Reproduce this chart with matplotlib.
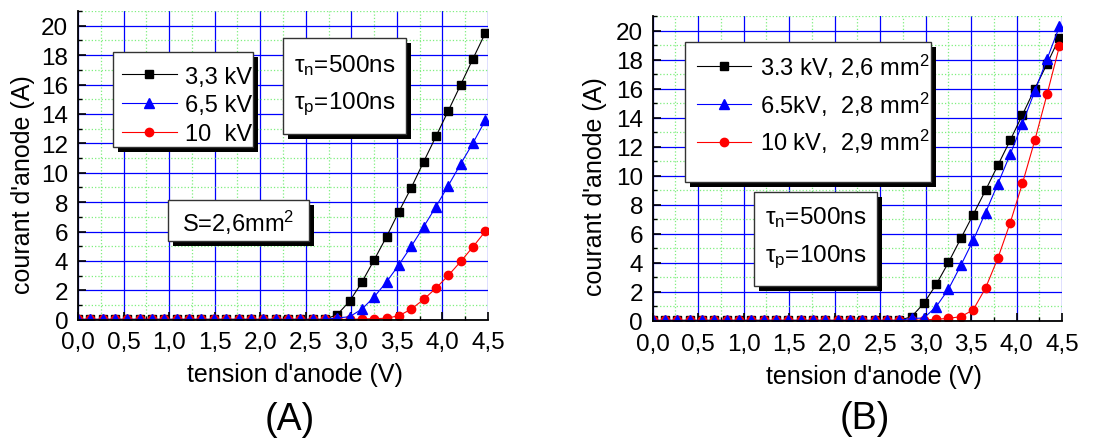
import numpy as np
import matplotlib
matplotlib.use('Agg')
import matplotlib.pyplot as plt
from matplotlib.patches import Rectangle
from matplotlib.ticker import MultipleLocator, FuncFormatter

plt.rcParams['font.family'] = ['Liberation Sans', 'DejaVu Sans']
plt.rcParams['mathtext.fontset'] = 'custom'
plt.rcParams['mathtext.rm'] = 'Liberation Sans'
plt.rcParams['mathtext.it'] = 'Liberation Sans:italic'

# tension d'anode (V), same sampling in both panels
x = [0.000, 0.136, 0.271, 0.407, 0.542, 0.678, 0.813, 0.949, 1.084, 1.220,
     1.355, 1.491, 1.626, 1.762, 1.897, 2.033, 2.168, 2.304, 2.439, 2.575,
     2.710, 2.846, 2.981, 3.117, 3.252, 3.388, 3.523, 3.659, 3.794, 3.930,
     4.065, 4.201, 4.336, 4.472]

z = [0.02] * 21  # flat part before turn-on

# panel (A): S = 2,6 mm2
a_33 = z + [0.35, 1.25, 2.56, 4.08, 5.66, 7.36, 8.99, 10.74, 12.48, 14.22, 15.99, 17.76, 19.52]
a_65 = z + [0.12, 0.20, 0.72, 1.56, 2.58, 3.74, 5.00, 6.32, 7.70, 9.13, 10.60, 12.03, 13.57]
a_10 = z + [0.02, 0.02, 0.05, 0.07, 0.10, 0.27, 0.72, 1.38, 2.15, 3.01, 3.96, 4.96, 6.02]
a_labels = ['3,3 kV', '6,5 kV', '10  kV']

# panel (B): different surfaces
b_33 = z + [0.28, 1.20, 2.50, 4.02, 5.68, 7.31, 8.99, 10.71, 12.44, 14.20, 16.00, 17.72, 19.52]
b_65 = z + [0.16, 0.18, 0.97, 2.18, 3.82, 5.54, 7.45, 9.43, 11.47, 13.60, 15.83, 18.05, 20.30]
b_10 = z + [0.02, 0.05, 0.10, 0.16, 0.28, 0.74, 2.25, 4.30, 6.74, 9.47, 12.44, 15.63, 18.94]
b_labels = ['3.3 kV, 2,6 mm$^2$', '6.5kV,  2,8 mm$^2$', '10 kV,  2,9 mm$^2$']

tau_text = ['τ$_\\mathrm{n}$=500ns', 'τ$_\\mathrm{p}$=100ns']


def shadow_box(ax, x0, y0, x1, y1):
    # white box with a black drop shadow, Origin style (axes coords)
    tr = ax.transAxes
    dx, dy = 5 / (ax.bbox.width), 5 / (ax.bbox.height)
    ax.add_patch(Rectangle((x0 + dx, y0 - dy), x1 - x0, y1 - y0, transform=tr,
                           fc='k', ec='k', lw=0, zorder=6, clip_on=False))
    ax.add_patch(Rectangle((x0, y0), x1 - x0, y1 - y0, transform=tr,
                           fc='white', ec='#333333', lw=1.0, zorder=7, clip_on=False))


def setup(ax):
    ax.set_xlim(0, 4.5)
    ax.set_ylim(0, 21)
    ax.xaxis.set_major_locator(MultipleLocator(0.5))
    ax.xaxis.set_minor_locator(MultipleLocator(0.25))
    ax.yaxis.set_major_locator(MultipleLocator(2))
    ax.yaxis.set_minor_locator(MultipleLocator(1))
    ax.set_yticks(np.arange(0, 21, 2))
    ax.xaxis.set_major_formatter(FuncFormatter(lambda v, p: '{:.1f}'.format(v).replace('.', ',')))
    ax.grid(which='major', color='#0000ff', lw=0.9, ls='-')
    ax.grid(which='minor', color='#7fef7f', lw=0.9, ls=':')
    ax.set_axisbelow(True)
    for s in ['top', 'right']:
        ax.spines[s].set_visible(False)
    for s in ['left', 'bottom']:
        ax.spines[s].set_linewidth(1.3)
        ax.spines[s].set_zorder(5)
    ax.tick_params(which='major', direction='in', length=6, width=1.2, labelsize=17.5)
    ax.tick_params(axis='x', which='major', pad=8.5)
    ax.tick_params(axis='y', which='major', pad=7)
    ax.tick_params(which='minor', direction='in', length=3, width=1.0)
    ax.set_xlabel("tension d'anode (V)", fontsize=18)
    ax.set_ylabel("courant d'anode (A)", fontsize=18)
    ax.xaxis.label.set_va('center')
    ax.yaxis.label.set_va('center')


def plot_series(ax, s33, s65, s10, labels):
    h1, = ax.plot(x, s33, '-s', color='k', lw=0.8, ms=5.5, label=labels[0], zorder=3)
    h2, = ax.plot(x, s65, '-^', color='#0000ff', lw=0.8, ms=7, label=labels[1], zorder=4)
    h3, = ax.plot(x, s10, '-o', color='#ff0000', lw=0.8, ms=6, label=labels[2], zorder=3.5)
    return [h1, h2, h3]


fig = plt.figure(figsize=(11.11, 4.39), dpi=100)

# ---- (A) ----
axA = fig.add_axes([0.0702, 0.2695, 0.369, 0.703])
setup(axA)
hA = plot_series(axA, a_33, a_65, a_10, a_labels)
axA.xaxis.set_label_coords(0.529, -0.176)
axA.yaxis.set_label_coords(-0.134, 0.44)

shadow_box(axA, 0.0854, 0.559, 0.4268, 0.867)
legA = axA.legend(handles=hA, loc='upper left', bbox_to_anchor=(0.085, 0.854), frameon=False,
                  fontsize=17, handlelength=2.3, handletextpad=0.35, labelspacing=0.28,
                  numpoints=1, borderaxespad=0)
legA.set_zorder(8)

shadow_box(axA, 0.5, 0.601, 0.8, 0.9125)
axA.text(0.65, 0.827, tau_text[0], transform=axA.transAxes, ha='center', va='center',
         fontsize=17.5, zorder=9)
axA.text(0.65, 0.700, tau_text[1], transform=axA.transAxes, ha='center', va='center',
         fontsize=17.5, zorder=9)

shadow_box(axA, 0.2195, 0.255, 0.5634, 0.3878)
axA.text(0.391, 0.318, 'S=2,6mm$^2$', transform=axA.transAxes, ha='center', va='center',
         fontsize=17, zorder=9)

# ---- (B) ----
axB = fig.add_axes([0.5875, 0.2672, 0.3684, 0.6936])
setup(axB)
hB = plot_series(axB, b_33, b_65, b_10, b_labels)
axB.xaxis.set_label_coords(0.541, -0.182)
axB.yaxis.set_label_coords(-0.141, 0.442)

shadow_box(axB, 0.0789, 0.4555, 0.68, 0.915)
legB = axB.legend(handles=hB, loc='upper left', bbox_to_anchor=(0.085, 0.915), frameon=False,
                  fontsize=17, handlelength=2.3, handletextpad=0.35, labelspacing=0.41,
                  numpoints=1, borderaxespad=0)
legB.set_zorder(8)

shadow_box(axB, 0.2475, 0.114, 0.548, 0.4227)
axB.text(0.398, 0.341, tau_text[0], transform=axB.transAxes, ha='center', va='center',
         fontsize=17.5, zorder=9)
axB.text(0.398, 0.213, tau_text[1], transform=axB.transAxes, ha='center', va='center',
         fontsize=17.5, zorder=9)

fig.text(290 / 1111, 1 - 420 / 439, '(A)', ha='center', va='center', fontsize=27)
fig.text(865 / 1111, 1 - 419 / 439, '(B)', ha='center', va='center', fontsize=27)

fig.savefig('out.png', dpi=100)
